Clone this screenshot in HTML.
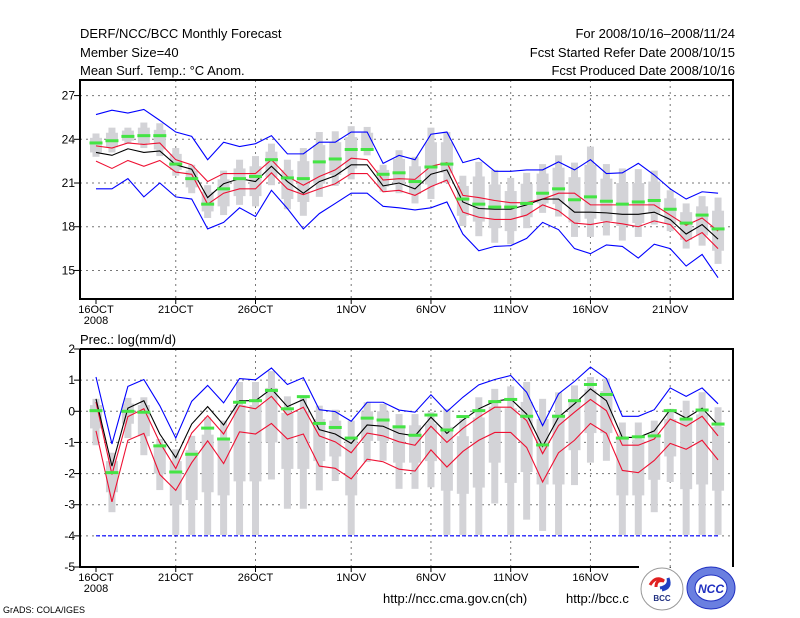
<!DOCTYPE html>
<html><head><meta charset="utf-8"><style>
html,body{margin:0;padding:0;background:#fff;}
svg{display:block;font-family:"Liberation Sans",sans-serif;}
</style></head><body>
<svg id="chart" width="800" height="618" viewBox="0 0 800 618" xmlns="http://www.w3.org/2000/svg">
<rect x="0" y="0" width="800" height="618" fill="#fff"/>
<g font-size="13" fill="#000">
<text x="80" y="38">DERF/NCC/BCC Monthly Forecast</text>
<text x="80" y="57">Member Size=40</text>
<text x="80" y="75">Mean Surf. Temp.: °C Anom.</text>
<text x="735" y="38" text-anchor="end">For 2008/10/16–2008/11/24</text>
<text x="735" y="57" text-anchor="end">Fcst Started Refer Date 2008/10/15</text>
<text x="735" y="75" text-anchor="end">Fcst Produced Date 2008/10/16</text>
<text x="80" y="344">Prec.: log(mm/d)</text>
<text x="383" y="603">http://ncc.cma.gov.cn(ch)</text>
<text x="566" y="603">http://bcc.c</text>
<text x="3" y="613" font-size="9">GrADS: COLA/IGES</text>
</g>
<g id="top"></g>
<g id="bot"></g>
<rect x="640" y="568" width="92" height="48" fill="#fff"/>
<g>
<circle cx="662" cy="589" r="21" fill="#fff" stroke="#999" stroke-width="1"/>
<path d="M650 585 q6 -10 14 -4 q-8 -2 -8 6" fill="none" stroke="#e02020" stroke-width="3"/>
<path d="M660 588 q10 -2 8 -10 q4 10 -6 12" fill="none" stroke="#2040c0" stroke-width="3"/>
<text x="662" y="601" font-size="8" font-weight="bold" text-anchor="middle" fill="#203080">BCC</text>
</g>
<g>
<ellipse cx="711" cy="588" rx="24" ry="21" fill="#6a7fe0" stroke="#2030c0"/>
<ellipse cx="711" cy="588" rx="16" ry="13" fill="#fff" stroke="#2030c0"/>
<text x="711" y="593" font-size="12" font-weight="bold" font-style="italic" text-anchor="middle" fill="#2030c0">NCC</text>
</g>
</svg>
<script>
// ---- temperature data (°C) ----
const days = ["16OCT","","","","","21OCT","","","","","26OCT","","","","","","1NOV","","","","","6NOV","","","","","11NOV","","","","","16NOV","","","","","21NOV","","",""];
const tBlueUp = [25.7,26.0,25.8,26.05,25.3,24.5,24.2,22.6,23.8,23.5,23.7,24.25,23.0,23.0,23.8,23.8,24.5,24.5,22.35,22.9,22.6,24.35,24.5,22.4,22.7,21.8,21.8,21.9,21.9,22.45,21.9,22.6,21.65,21.7,22.35,21.55,20.6,19.9,20.4,20.3];
const tBlueLo = [20.6,20.6,21.3,20.05,21.0,20.05,19.9,17.85,18.3,19.3,18.7,20.5,19.25,17.85,18.9,19.6,20.3,20.3,19.4,19.3,19.15,19.3,19.7,17.5,16.35,16.65,16.7,17.2,18.3,17.8,16.5,16.15,16.75,16.65,15.85,16.8,16.5,15.3,16.1,14.5];
const tRedUp = [23.55,23.4,23.75,23.65,23.75,22.6,22.25,21.1,21.65,21.65,21.65,22.6,21.45,20.85,21.45,21.9,22.7,22.6,21.2,21.3,21.25,22.15,22.4,20.15,20.0,19.8,19.65,19.65,19.9,20.3,20.3,19.5,19.5,19.5,19.5,19.5,18.8,18.1,18.6,17.7];
const tRedLo = [22.5,22.0,22.55,22.15,22.55,21.75,21.6,19.55,20.3,20.6,20.6,21.7,20.6,20.2,20.6,20.95,21.65,21.65,20.4,20.5,20.15,20.75,21.2,19.0,18.65,18.5,18.5,18.8,19.5,19.1,18.25,18.15,18.35,18.2,18.0,18.4,18.15,17.0,17.6,16.5];
const tMean = [23.1,22.9,23.35,23.1,23.2,22.25,21.95,20.0,20.95,21.3,21.1,22.15,21.1,20.3,21.1,21.5,22.25,22.25,20.8,21.0,20.6,21.6,21.9,19.7,19.25,19.2,19.2,19.5,19.9,19.9,19.0,19.0,18.95,18.85,18.85,19.0,18.5,17.5,18.15,17.15];
const tGreen = [23.75,23.9,24.2,24.25,24.25,22.3,21.3,19.55,20.6,21.3,21.45,22.6,21.35,21.3,22.45,22.65,23.3,23.3,21.6,21.7,21.1,22.1,22.3,19.9,19.55,19.35,19.35,19.6,20.3,20.6,19.85,20.05,19.75,19.55,19.7,19.8,19.2,18.25,18.8,17.85];
const tOutHi = [24.4,24.8,24.8,25.15,25.1,23.4,22.25,20.85,21.85,22.6,22.85,23.7,22.6,23.4,24.5,24.55,24.9,24.85,22.25,23.25,22.8,24.8,24.5,21.5,22.45,21.9,21.35,21.7,22.3,22.9,22.4,23.5,22.3,22.0,21.95,21.85,20.5,19.6,20.1,20.0];
const tOutLo = [22.8,23.1,23.7,23.4,22.85,21.5,20.3,18.6,18.8,19.5,19.4,20.85,19.2,18.75,20.05,20.8,21.25,22.9,20.4,20.3,19.6,19.9,21.0,18.05,17.35,16.9,16.8,17.9,18.95,18.7,17.3,17.3,17.4,17.05,17.3,18.15,17.7,16.5,16.7,15.45];
const tInHi = [24.1,24.45,24.6,24.8,24.65,23.0,21.85,20.4,21.25,22.0,22.15,23.15,21.9,22.5,23.6,23.8,24.15,24.45,21.9,22.65,22.15,23.8,23.8,20.8,21.45,20.9,20.45,20.95,21.65,22.05,21.4,22.25,21.3,21.0,21.0,21.1,19.95,19.0,19.4,19.1];
const tInLo = [23.1,23.45,23.9,23.75,23.3,21.9,20.7,19.05,19.4,20.1,20.1,21.4,19.9,19.7,20.95,21.55,22.0,23.3,20.75,20.9,20.25,20.9,21.7,18.75,18.35,17.9,17.7,18.65,19.6,19.55,18.3,18.55,18.4,18.05,18.25,18.9,18.25,17.1,17.4,16.35];
const tTicks = [15,18,21,24,27];
// ---- precipitation data (log mm/d) ----
const pBlueUp = [1.1,-1.05,0.8,1.02,0.18,-0.86,0.32,0.83,0.27,1.05,1.01,1.39,0.86,1.08,0.05,-0.01,-0.32,0.29,0.29,0.04,-0.03,0.53,-0.01,0.45,0.85,1.02,1.15,0.61,-0.46,0.56,0.96,1.42,1.05,-0.16,-0.16,0.05,0.75,0.48,0.75,0.24];
const pBlueLo = [-4,-4,-4,-4,-4,-4,-4,-4,-4,-4,-4,-4,-4,-4,-4,-4,-4,-4,-4,-4,-4,-4,-4,-4,-4,-4,-4,-4,-4,-4,-4,-4,-4,-4,-4,-4,-4,-4,-4,-4];
const pRedUp = [0.3,-2.03,-0.17,0.08,-1.0,-1.84,-0.7,-0.14,-0.73,0.18,0.08,0.48,-0.12,0.13,-0.79,-0.98,-1.33,-0.7,-0.79,-0.98,-1.09,-0.48,-1.0,-0.55,-0.19,0.13,0.13,-0.3,-1.36,-0.46,-0.03,0.38,0.02,-1.09,-1.09,-0.89,-0.25,-0.48,-0.16,-0.79];
const pRedLo = [-0.63,-2.91,-0.93,-0.71,-2.03,-2.54,-1.65,-0.95,-1.68,-0.66,-0.73,-0.39,-0.89,-0.73,-1.76,-1.83,-2.17,-1.54,-1.62,-1.86,-1.92,-1.24,-1.79,-1.29,-0.93,-0.68,-0.68,-1.16,-2.27,-1.33,-0.93,-0.39,-0.71,-1.9,-1.97,-1.58,-1.03,-1.22,-0.93,-1.56];
const pMean = [0.4,-1.76,0.1,0.34,-0.73,-1.49,-0.41,0.15,-0.44,0.34,0.34,0.72,0.15,0.38,-0.59,-0.73,-1.03,-0.44,-0.48,-0.71,-0.79,-0.19,-0.71,-0.28,0.08,0.32,0.4,-0.09,-1.13,-0.19,0.24,0.72,0.34,-0.84,-0.84,-0.63,0.05,-0.22,0.1,-0.44];
const pGreen = [0.02,-1.97,0.0,-0.03,-1.11,-1.95,-1.38,-0.54,-0.89,0.29,0.34,0.67,0.08,0.47,-0.39,-0.52,-0.86,-0.22,-0.28,-0.5,-0.77,-0.12,-0.6,-0.17,0.02,0.31,0.38,-0.16,-1.08,-0.16,0.34,0.86,0.54,-0.86,-0.82,-0.79,0.02,-0.25,0.04,-0.41];
const pOutHi = [0.4,-1.33,0.43,0.45,-0.89,-1.22,-0.79,-0.19,-0.3,0.94,0.94,1.29,0.48,0.51,0.18,0.05,-0.3,0.29,0.24,-0.09,-0.09,-0.03,0.08,-0.25,0.45,0.72,0.8,0.94,0.4,0.61,0.83,1.1,1.05,-0.36,-0.36,-0.3,0.08,0.34,0.61,0.13];
const pOutLo = [-1.09,-3.24,-0.86,-1.41,-2.53,-3.97,-3.97,-3.97,-3.97,-3.97,-3.97,-2.19,-3.13,-3.13,-2.54,-2.24,-3.97,-1.63,-1.59,-2.49,-2.49,-2.44,-3.97,-3.97,-3.97,-2.96,-3.97,-3.48,-3.84,-3.97,-2.37,-1.65,-1.59,-3.97,-3.97,-3.24,-2.27,-3.97,-3.97,-3.97];
const pInHi = [0.2,-1.6,0.25,0.2,-1.1,-1.6,-1.25,-0.75,-0.85,0.2,0.2,0.75,-0.05,0.0,-0.25,-0.3,-0.85,0.0,0.0,-0.45,-0.45,-0.4,-0.5,-0.8,-0.2,0.15,0.1,0.3,-0.25,-0.1,0.35,0.7,0.65,-0.9,-0.9,-0.75,-0.25,-0.3,-0.1,-0.5];
const pInLo = [-0.55,-2.6,-0.4,-0.8,-2.0,-3.0,-2.85,-2.6,-2.7,-2.25,-2.25,-1.0,-1.85,-1.85,-1.6,-1.45,-2.7,-0.95,-0.95,-1.65,-1.65,-1.6,-2.55,-2.65,-2.45,-1.65,-2.3,-1.95,-2.35,-2.35,-1.25,-0.7,-0.7,-2.7,-2.7,-2.2,-1.45,-2.5,-2.35,-2.55];
const pTicks = [-5,-4,-3,-2,-1,0,1,2];

const NS="http://www.w3.org/2000/svg";
function mk(parent,tag,attrs){const e=document.createElementNS(NS,tag);for(const k in attrs)e.setAttribute(k,attrs[k]);parent.appendChild(e);return e;}
const xOf=i=>96+i*15.95;

function panel(g,cfg){
  const {top,bottom,vmin,vmax,ticks,outHi,outLo,inHi,inLo,green,lines,name,cutRight}=cfg;
  const yOf=v=>top+(vmax-v)/(vmax-vmin)*(bottom-top);
  ticks.forEach(t=>{const y=yOf(t);
    if(y>top+1&&y<bottom-1){const l=mk(g,'line',{x1:80,x2:733,y1:y,y2:y,stroke:'#777','stroke-dasharray':'2,4'});
    
    }
    const tk=mk(g,'line',{x1:74,x2:80,y1:y,y2:y,stroke:'#000'});
    
    
    const tx=mk(g,'text',{x:75,y:y+4,'font-size':12,'text-anchor':'end'});tx.textContent=t;
    
    
  });
  days.forEach((d,i)=>{if(!d)return;const x=xOf(i);
    if(i>0){const l=mk(g,'line',{x1:x,x2:x,y1:top,y2:bottom,stroke:'#777','stroke-dasharray':'2,4'});
    
    }
    const tk=mk(g,'line',{x1:x,x2:x,y1:bottom,y2:bottom+5,stroke:'#000'});
    
    
    const tx=mk(g,'text',{x:x,y:bottom+14,'font-size':11,'text-anchor':'middle'});tx.textContent=d;
    
    
  });
  const yr=mk(g,'text',{x:96,y:bottom+25,'font-size':11,'text-anchor':'middle'});yr.textContent='2008';
  
  
  outHi.forEach((v,i)=>{const x=xOf(i);
    const r=mk(g,'rect',{x:x-3.5,y:yOf(v),width:7,height:yOf(outLo[i])-yOf(v),fill:'#d3d3d7'});
    
    
    const b=mk(g,'rect',{x:x-6,y:yOf(inHi[i]),width:12,height:yOf(inLo[i])-yOf(inHi[i]),fill:'#d3d3d7'});
    
    
  });
  lines.forEach(([arr,col,ln])=>{
    const p=mk(g,'polyline',{points:arr.map((v,i)=>xOf(i)+','+yOf(v)).join(' '),fill:'none',stroke:col,'stroke-width':1.1,'stroke-dasharray':ln||'none'});
    
    
  });
  green.forEach((v,i)=>{
    const r=mk(g,'rect',{x:xOf(i)-6.5,y:yOf(v)-1.5,width:13,height:3,fill:'#44e444'});
    
    
  });
  const fr=cutRight?`M80 ${top} H733 V${bottom} M639 ${bottom} H80 V${top}`:`M80 ${top} H733 V${bottom} H80 Z`;
  const f=mk(g,'path',{d:fr,fill:'none',stroke:'#000','stroke-width':2});
  
  
}
panel(document.getElementById('top'),{top:80,bottom:299,vmin:13.04,vmax:28.07,ticks:tTicks,outHi:tOutHi,outLo:tOutLo,inHi:tInHi,inLo:tInLo,green:tGreen,name:'temp',
  lines:[[tBlueUp,'#0000ff'],[tBlueLo,'#0000ff'],[tRedUp,'#ee1133'],[tRedLo,'#ee1133'],[tMean,'#000']]});
panel(document.getElementById('bot'),{top:349,bottom:567,vmin:-5,vmax:2,ticks:pTicks,outHi:pOutHi,outLo:pOutLo,inHi:pInHi,inLo:pInLo,green:pGreen,name:'precip',cutRight:true,
  lines:[[pBlueUp,'#0000ff'],[pBlueLo,'#0000ff','4,2'],[pRedUp,'#ee1133'],[pRedLo,'#ee1133'],[pMean,'#000']]});
</script>
</body></html>
